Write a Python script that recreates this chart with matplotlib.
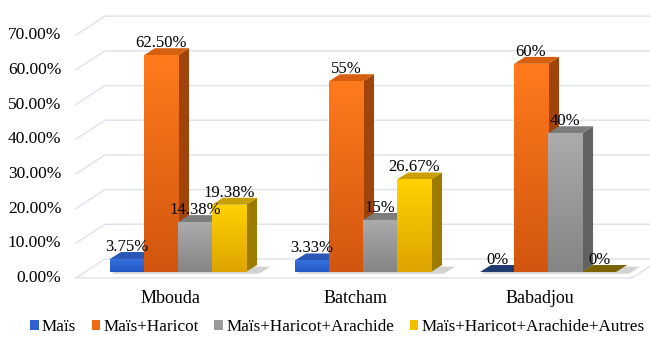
import matplotlib
matplotlib.use("Agg")
import matplotlib.pyplot as plt
from matplotlib.patches import Polygon, Rectangle
from matplotlib.colors import LinearSegmentedColormap
import numpy as np

plt.rcParams['font.family'] = ['Liberation Serif', 'DejaVu Serif']

# data
communes = ["Mbouda", "Batcham", "Babadjou"]
series = ["Maïs", "Maïs+Haricot", "Maïs+Haricot+Arachide", "Maïs+Haricot+Arachide+Autres"]
values = [
    [3.75, 3.33, 0],
    [62.5, 55, 60],
    [14.38, 15, 40],
    [19.38, 26.67, 0],
]
labels = [
    ["3.75%", "3.33%", "0%"],
    ["62.50%", "55%", "60%"],
    ["14.38%", "15%", "40%"],
    ["19.38%", "26.67%", "0%"],
]
yticks = [0, 10, 20, 30, 40, 50, 60, 70]

# colours: (front top, front bottom, top face, side face, legend)
colors = [
    ("#3572e0", "#2458c2", "#2b57b4", "#1d3c86", "#2f62cf"),
    ("#ff7a1c", "#d2560f", "#d6600f", "#a1440b", "#f06a16"),
    ("#ababab", "#858585", "#7c7c7c", "#626262", "#9a9a9a"),
    ("#ffd200", "#dea400", "#c9a000", "#9c7c00", "#f2bf00"),
]
zero_top = ["#1e3a6e", "#6e6e6e", "#6e6e6e", "#7a6200"]
grid_col = "#dde1ea"

# geometry (data units)
bw = 34 / 185
bdx, bdy = 11 / 185, 2.0          # bar depth
wdx, wdy = 20 / 185, 3.75         # back wall offset
fdx, fdy = -9 / 185, -1.73        # front floor edge offset
left, right = -0.503, 2.503

fig = plt.figure(figsize=(6.5, 3.41), dpi=100)
ax = fig.add_axes([0, 0, 1, 1])
ax.set_axis_off()

# walls / gridlines
for v in yticks:
    ax.plot([left + fdx, left + wdx, right + wdx + 0.2],
            [v + fdy, v + wdy, v + wdy], color=grid_col, lw=1, zorder=0)
    ax.text(-0.63, v + fdy, "%.2f%%" % v, ha="right", va="center", fontsize=12.5, zorder=1)
ax.plot([left + fdx, right + fdx, right + wdx],
        [fdy, fdy, wdy], color=grid_col, lw=1, zorder=0)

z = 2
for i, name in enumerate(communes):
    x_first = i - 2 * bw
    # soft shadow on the floor
    ax.add_patch(Polygon([(x_first + 0.01, -0.5), (x_first + 4 * bw + 0.07, -0.5),
                          (x_first + 4 * bw + 0.07 + bdx, -0.5 + bdy), (x_first + 0.01 + bdx, bdy)],
                         closed=True, facecolor="#b5b5b5", edgecolor="none", alpha=0.6, zorder=z))
    z += 1
    for j in range(len(series)):
        v = values[j][i]
        x0 = x_first + j * bw
        x1 = x0 + bw
        c_top, c_bot, c_face, c_side, _ = colors[j]
        if v == 0:
            ax.add_patch(Polygon([(x0, 0), (x1, 0), (x1 + bdx, bdy), (x0 + bdx, bdy)],
                                 closed=True, facecolor=zero_top[j], edgecolor="none", zorder=z))
        else:
            ax.add_patch(Polygon([(x1, 0), (x1 + bdx, bdy), (x1 + bdx, v + bdy), (x1, v)],
                                 closed=True, facecolor=c_side, edgecolor="none", zorder=z))
            ax.add_patch(Polygon([(x0, v), (x1, v), (x1 + bdx, v + bdy), (x0 + bdx, v + bdy)],
                                 closed=True, facecolor=c_face, edgecolor="none", zorder=z))
            rect = Rectangle((x0, 0), bw, v, facecolor="none", edgecolor="none", zorder=z)
            ax.add_patch(rect)
            cmap = LinearSegmentedColormap.from_list("g%d" % j, [c_bot, c_top])
            grad = np.linspace(0, 1, 64).reshape(-1, 1)
            im = ax.imshow(grad, extent=[x0, x1, 0, v], origin="lower", aspect="auto",
                           cmap=cmap, zorder=z, interpolation="bilinear")
            im.set_clip_path(rect)
        z += 1
        ax.text((x0 + x1) / 2, v + bdy - 0.8, labels[j][i], ha="center", va="bottom",
                fontsize=12, zorder=50)
    ax.text(i - 0.043, -7.6, name, ha="center", va="center", fontsize=13, zorder=50)

handles = [Rectangle((0, 0), 1, 1, facecolor=c[4], edgecolor="none") for c in colors]
fig.legend(handles, series, loc="center", bbox_to_anchor=(0.519, 0.04), ncol=4,
           frameon=False, fontsize=12.3, handlelength=0.5, handleheight=0.5,
           handletextpad=0.2, columnspacing=0.9, borderpad=0.1)

ax.set_xlim(-0.962, 2.551)
ax.set_ylim(-19.9, 78.4)
fig.savefig("out.png", dpi=100)
